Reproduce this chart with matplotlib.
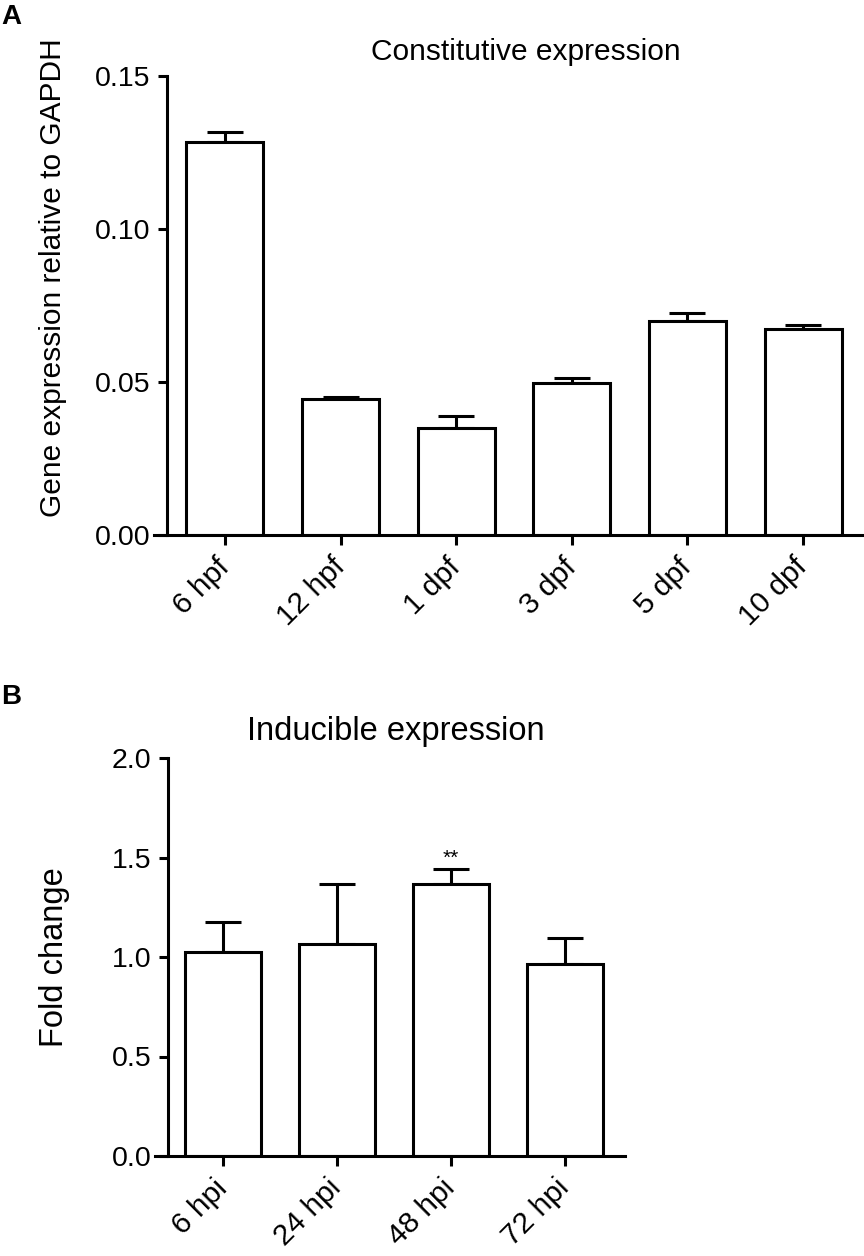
import numpy as np
import matplotlib
matplotlib.use("Agg")
import matplotlib.pyplot as plt
import matplotlib as mpl
from matplotlib.ticker import FormatStrFormatter

mpl.rcParams['font.family'] = ['Liberation Sans', 'DejaVu Sans']
mpl.rcParams['axes.linewidth'] = 2.2
mpl.rcParams['xtick.major.width'] = 2.2
mpl.rcParams['ytick.major.width'] = 2.2
mpl.rcParams['xtick.major.size'] = 7
mpl.rcParams['ytick.major.size'] = 6.5

# panel A: constitutive expression
stages = ["6 hpf", "12 hpf", "1 dpf", "3 dpf", "5 dpf", "10 dpf"]
const_mean = [0.1285, 0.0446, 0.0350, 0.0497, 0.0699, 0.0672]
const_sem = [0.0033, 0.0005, 0.0038, 0.0016, 0.0027, 0.0013]

# panel B: inducible expression
times = ["6 hpi", "24 hpi", "48 hpi", "72 hpi"]
fold_mean = [1.027, 1.066, 1.369, 0.965]
fold_sem = [0.148, 0.299, 0.072, 0.129]
signif = ["", "", "**", ""]

W, H = 864, 1256
fig = plt.figure(figsize=(W / 100, H / 100), dpi=100)


def bar_panel(ax, labels, mean, sem, width, ylim, yticks, fmt, xlim, spine_x):
    x = np.arange(len(labels))
    ax.bar(x, mean, width=width, color="white", edgecolor="black", linewidth=2.2, zorder=2)
    ax.errorbar(x, mean, yerr=[np.zeros(len(mean)), sem], fmt="none", ecolor="black",
                elinewidth=2.2, capsize=13, capthick=2.2, zorder=1)
    ax.set_xlim(*xlim)
    ax.set_ylim(*ylim)
    ax.spines['top'].set_visible(False)
    ax.spines['right'].set_visible(False)
    ax.spines['left'].set_position(('data', spine_x))
    ax.spines['left'].set_bounds(*ylim)
    ax.set_yticks(yticks)
    ax.yaxis.set_major_formatter(FormatStrFormatter(fmt))
    ax.set_xticks(x)
    ax.set_xticklabels(labels, rotation=45, ha="right", va="center", rotation_mode="anchor")
    ax.tick_params(axis='y', labelsize=20.5, pad=5.5)
    ax.tick_params(axis='x', labelsize=21.5, pad=13)
    ax.patch.set_visible(False)
    return x


# --- A
axA = fig.add_axes([154 / W, 1 - 535 / H, 708 / W, 459 / H])
bar_panel(axA, stages, const_mean, const_sem, 0.666, (0, 0.15),
          [0, 0.05, 0.10, 0.15], "%.2f", (-0.614, 5.51), -0.5)
fig.text(526 / W, 1 - 60 / H, "Constitutive expression", ha="center", va="baseline", size=21.5)
fig.text(53 / W, 1 - 278 / H, "Gene expression relative to GAPDH", rotation=90,
         ha="center", va="center", size=21.5)
fig.text(1 / W, 1 - 24 / H, "A", weight="bold", size=20, ha="left", va="baseline")

# --- B
axB = fig.add_axes([155 / W, 1 - 1156 / H, 470 / W, 398 / H])
xb = bar_panel(axB, times, fold_mean, fold_sem, 0.66, (0, 2.0),
               [0, 0.5, 1.0, 1.5, 2.0], "%.1f", (-0.596, 3.526), -0.482)
for xi, m, s, lab in zip(xb, fold_mean, fold_sem, signif):
    if lab:
        axB.annotate(lab, (xi, m + s), xytext=(0, 1), textcoords="offset points",
                     ha="center", va="bottom", size=15)
fig.text(396 / W, 1 - 740 / H, "Inducible expression", ha="center", va="baseline", size=23.5)
fig.text(55 / W, 1 - 957 / H, "Fold change", rotation=90, ha="center", va="center", size=23.5)
fig.text(1 / W, 1 - 704 / H, "B", weight="bold", size=20, ha="left", va="baseline")

fig.savefig("out.png", dpi=100)
